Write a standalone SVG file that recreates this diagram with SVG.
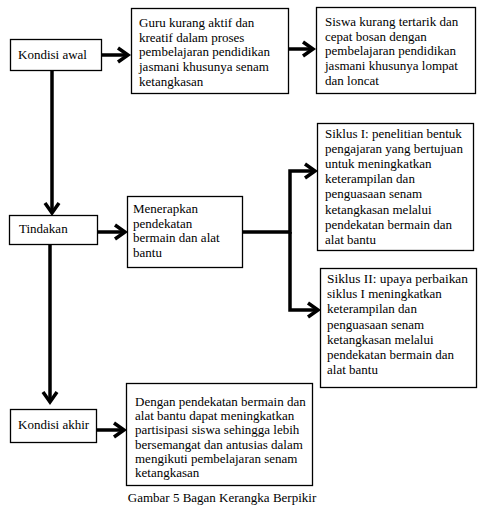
<svg xmlns="http://www.w3.org/2000/svg" width="479" height="507" viewBox="0 0 479 507">
<style>
.box{fill:#fff;stroke:#000;stroke-width:1.3}
text{font-family:"Liberation Serif","Times New Roman",serif;font-size:13px;fill:#000}
.con{fill:none;stroke:#000;stroke-width:3.5;stroke-linejoin:miter}
</style>
<defs>
<marker id="arr" markerUnits="userSpaceOnUse" markerWidth="16" markerHeight="18" refX="13" refY="8" orient="auto" overflow="visible">
<path d="M3,1 L13,8 L3,15" fill="none" stroke="#000" stroke-width="3.5"/>
</marker>
</defs>
<rect width="479" height="507" fill="#fff"/>
<g id="connectors">
<path class="con" d="M102,55 H128" marker-end="url(#arr)"/>
<path class="con" d="M289,49 H313" marker-end="url(#arr)"/>
<path class="con" d="M52,71 V213" marker-end="url(#arr)"/>
<path class="con" d="M98,232 H125" marker-end="url(#arr)"/>
<path class="con" d="M242,232 H290 V171 H315" marker-end="url(#arr)"/>
<path class="con" d="M290,232 V310 H318" marker-end="url(#arr)"/>
<path class="con" d="M50,244 V402" marker-end="url(#arr)"/>
<path class="con" d="M97,430 H124" marker-end="url(#arr)"/>
</g>
<g id="kondisi-awal">
<rect class="box" x="10.5" y="39.5" width="91" height="31"/>
<text x="18" y="59">Kondisi awal</text>
</g>
<g id="guru">
<rect class="box" x="131.5" y="8.5" width="157" height="85"/>
<text x="139" y="27">Guru kurang aktif dan</text>
<text x="139" y="41.7">kreatif dalam proses</text>
<text x="139" y="56.4">pembelajaran pendidikan</text>
<text x="139" y="71.1">jasmani khusunya senam</text>
<text x="139" y="85.8">ketangkasan</text>
</g>
<g id="siswa">
<rect class="box" x="316.5" y="7.5" width="159" height="86"/>
<text x="325" y="26">Siswa kurang tertarik dan</text>
<text x="325" y="40.7">cepat bosan dengan</text>
<text x="325" y="55.4">pembelajaran pendidikan</text>
<text x="325" y="70.1">jasmani khusunya lompat</text>
<text x="325" y="84.8">dan loncat</text>
</g>
<g id="tindakan">
<rect class="box" x="9.5" y="215.5" width="88" height="29"/>
<text x="19" y="233">Tindakan</text>
</g>
<g id="menerapkan">
<rect class="box" x="127.5" y="196.5" width="115" height="71"/>
<text x="133" y="213">Menerapkan</text>
<text x="133" y="227.7">pendekatan</text>
<text x="133" y="242.4">bermain dan alat</text>
<text x="133" y="257.1">bantu</text>
</g>
<g id="siklus-1">
<rect class="box" x="317.5" y="123.5" width="156" height="127"/>
<text x="325" y="138">Siklus I: penelitian bentuk</text>
<text x="325" y="153.1">pengajaran yang bertujuan</text>
<text x="325" y="168.2">untuk meningkatkan</text>
<text x="325" y="183.3">keterampilan dan</text>
<text x="325" y="198.4">penguasaan senam</text>
<text x="325" y="213.5">ketangkasan melalui</text>
<text x="325" y="228.6">pendekatan bermain dan</text>
<text x="325" y="243.7">alat bantu</text>
</g>
<g id="siklus-2">
<rect class="box" x="320.5" y="268.5" width="156" height="119"/>
<text x="327" y="283" textLength="141" lengthAdjust="spacingAndGlyphs">Siklus II: upaya perbaikan</text>
<text x="327" y="298.2">siklus I meningkatkan</text>
<text x="327" y="313.4">keterampilan dan</text>
<text x="327" y="328.6">penguasaan senam</text>
<text x="327" y="343.8">ketangkasan melalui</text>
<text x="327" y="359">pendekatan bermain dan</text>
<text x="327" y="374.2">alat bantu</text>
</g>
<g id="kondisi-akhir">
<rect class="box" x="10.5" y="409.5" width="86" height="33"/>
<text x="18" y="429">Kondisi akhir</text>
</g>
<g id="dengan">
<rect class="box" x="126.5" y="383.5" width="186" height="102"/>
<text x="135" y="406">Dengan pendekatan bermain dan</text>
<text x="135" y="420.2">alat bantu dapat meningkatkan</text>
<text x="135" y="434.4">partisipasi siswa sehingga lebih</text>
<text x="135" y="448.6">bersemangat dan antusias dalam</text>
<text x="135" y="462.8">mengikuti pembelajaran senam</text>
<text x="135" y="477">ketangkasan</text>
</g>
<text x="222" y="502" text-anchor="middle">Gambar 5 Bagan Kerangka Berpikir</text>
</svg>
